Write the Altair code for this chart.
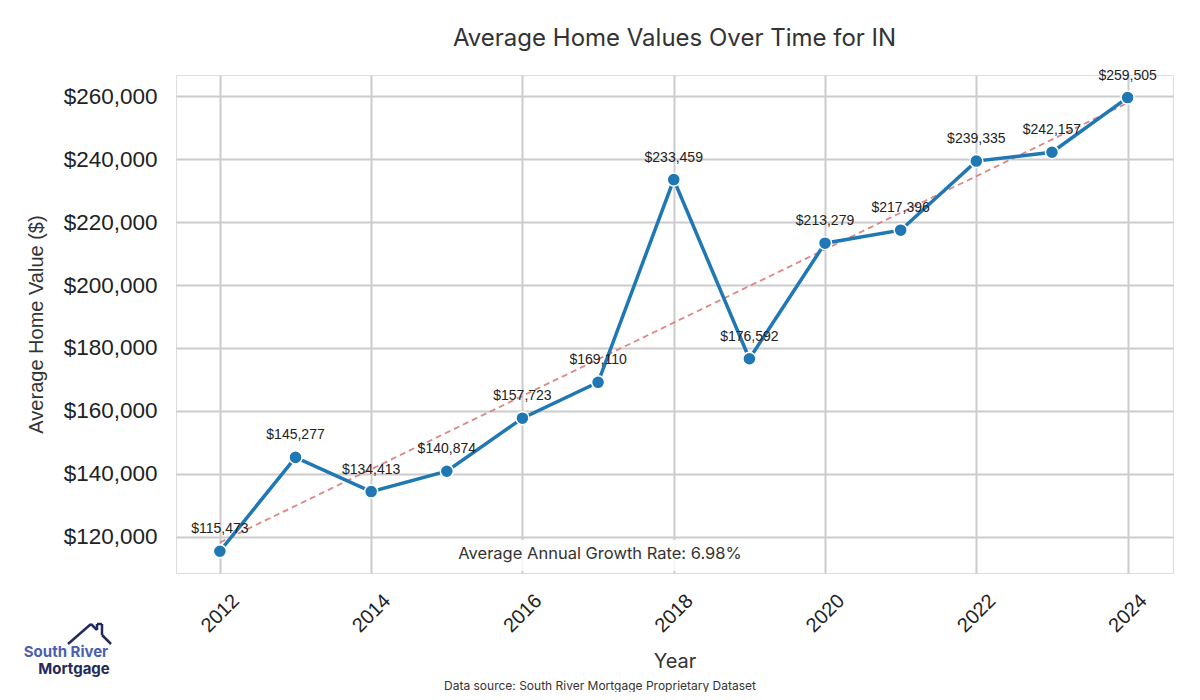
import altair as alt
import pandas as pd

years = [2012, 2013, 2014, 2015, 2016, 2017, 2018, 2019, 2020, 2021, 2022, 2023, 2024]
values = [115473, 145277, 134413, 140874, 157723, 169110, 233459, 176592, 213279, 217396, 239335, 242157, 259505]
x_ticks = [2012, 2014, 2016, 2018, 2020, 2022, 2024]
y_ticks = [120000, 140000, 160000, 180000, 200000, 220000, 240000, 260000]
title_text = "Average Home Values Over Time for IN"
growth_text = "Average Annual Growth Rate: 6.98%"
source_text = "Data source: South River Mortgage Proprietary Dataset"

df = pd.DataFrame({"year": years, "value": values})
df["label"] = ["${:,}".format(v) for v in values]

W, H = 997, 498
TF = "Inter"
LF = "Liberation Sans"

x = alt.X("year:Q", scale=alt.Scale(domain=[2011.42, 2024.6], nice=False, zero=False),
          axis=alt.Axis(values=x_ticks, format="d", title="Year", labelAngle=-45,
                        labelAlign="center", labelBaseline="middle", labelPadding=40,
                        labelFontSize=20, labelFont=LF, labelColor="#222", titleFont=TF,
                        titleFontSize=20, titleFontWeight="normal", titleColor="#333",
                        titlePadding=16, ticks=False,
                        domain=False, gridColor="#cccccc", gridWidth=2))
y = alt.Y("value:Q", scale=alt.Scale(domain=[108571, 266667], nice=False, zero=False),
          axis=alt.Axis(values=y_ticks, format="$,.0f", title="Average Home Value ($)",
                        labelFontSize=22.5, labelFont=LF, labelColor="#222", titleFont=LF,
                        titleFontSize=20, titleFontWeight="normal", titleColor="#333",
                        titlePadding=17, ticks=False,
                        domain=False, labelPadding=19, gridColor="#cccccc", gridWidth=2))

base = alt.Chart(df)

trend = base.transform_regression("year", "value", method="linear").mark_line(
    color="#d97a7a", strokeDash=[6, 4], strokeWidth=1.8, opacity=0.9
).encode(x=x, y=y)

line = base.mark_line(color="#1f77b4", strokeWidth=3.5).encode(x=x, y=y)
pts = base.mark_circle(size=170, color="#1f77b4", opacity=1, stroke="white", strokeWidth=1.5).encode(x=x, y=y)
labels = base.mark_text(dy=-22, fontSize=14, font=LF, color="#222").encode(x=x, y=y, text="label:N")

box = alt.Chart(pd.DataFrame({"a": [0]})).mark_rect(color="white", opacity=0.85, cornerRadius=6).encode(
    x=alt.value(449 - 176), x2=alt.value(750 - 176), y=alt.value(540 - 75), y2=alt.value(571 - 75))
growth = alt.Chart(pd.DataFrame({"t": [growth_text]})).mark_text(
    fontSize=16.5, font=TF, color="#333").encode(x=alt.value(600 - 176), y=alt.value(554 - 75), text="t:N")

source = alt.Chart(pd.DataFrame({"t": [source_text]})).mark_text(
    fontSize=12, font=TF, color="#333").encode(x=alt.value(600 - 176), y=alt.value(686 - 75), text="t:N")

logo1 = alt.Chart(pd.DataFrame({"t": ["South River"]})).mark_text(
    fontSize=15, font=TF, fontWeight="bold", color="#4a5fb0").encode(
    x=alt.value(66 - 176), y=alt.value(652 - 75), text="t:N")
logo2 = alt.Chart(pd.DataFrame({"t": ["Mortgage"]})).mark_text(
    fontSize=15, font=TF, fontWeight="bold", color="#232a5c").encode(
    x=alt.value(74 - 176), y=alt.value(669 - 75), text="t:N")

house_segs = [
    (68, 644, 91, 624), (91, 624, 97, 630), (97, 630, 97, 624), (97, 624, 102, 624),
    (102, 624, 102, 635), (102, 635, 111, 644)
]
house = [
    alt.Chart(pd.DataFrame({"a": [0]})).mark_rule(color="#232a5c", strokeWidth=2.5).encode(
        x=alt.value(a - 176), y=alt.value(b - 75), x2=alt.value(c - 176), y2=alt.value(d - 75))
    for (a, b, c, d) in house_segs
]

chart = alt.layer(trend, line, pts, labels, box, growth, source, logo1, logo2, *house).properties(
    width=W, height=H,
    title=alt.TitleParams(title_text, font=TF, fontSize=24, fontWeight="normal", color="#333",
                          anchor="middle", offset=18),
    padding={"left": 168, "top": 67, "right": 19, "bottom": 119},
    autosize=alt.AutoSizeParams(type="none"),
).configure_view(fill="#f8f8f8", strokeWidth=0).configure(background="white")

chart.save("out.html", embed_options={"renderer": "svg", "actions": False})
